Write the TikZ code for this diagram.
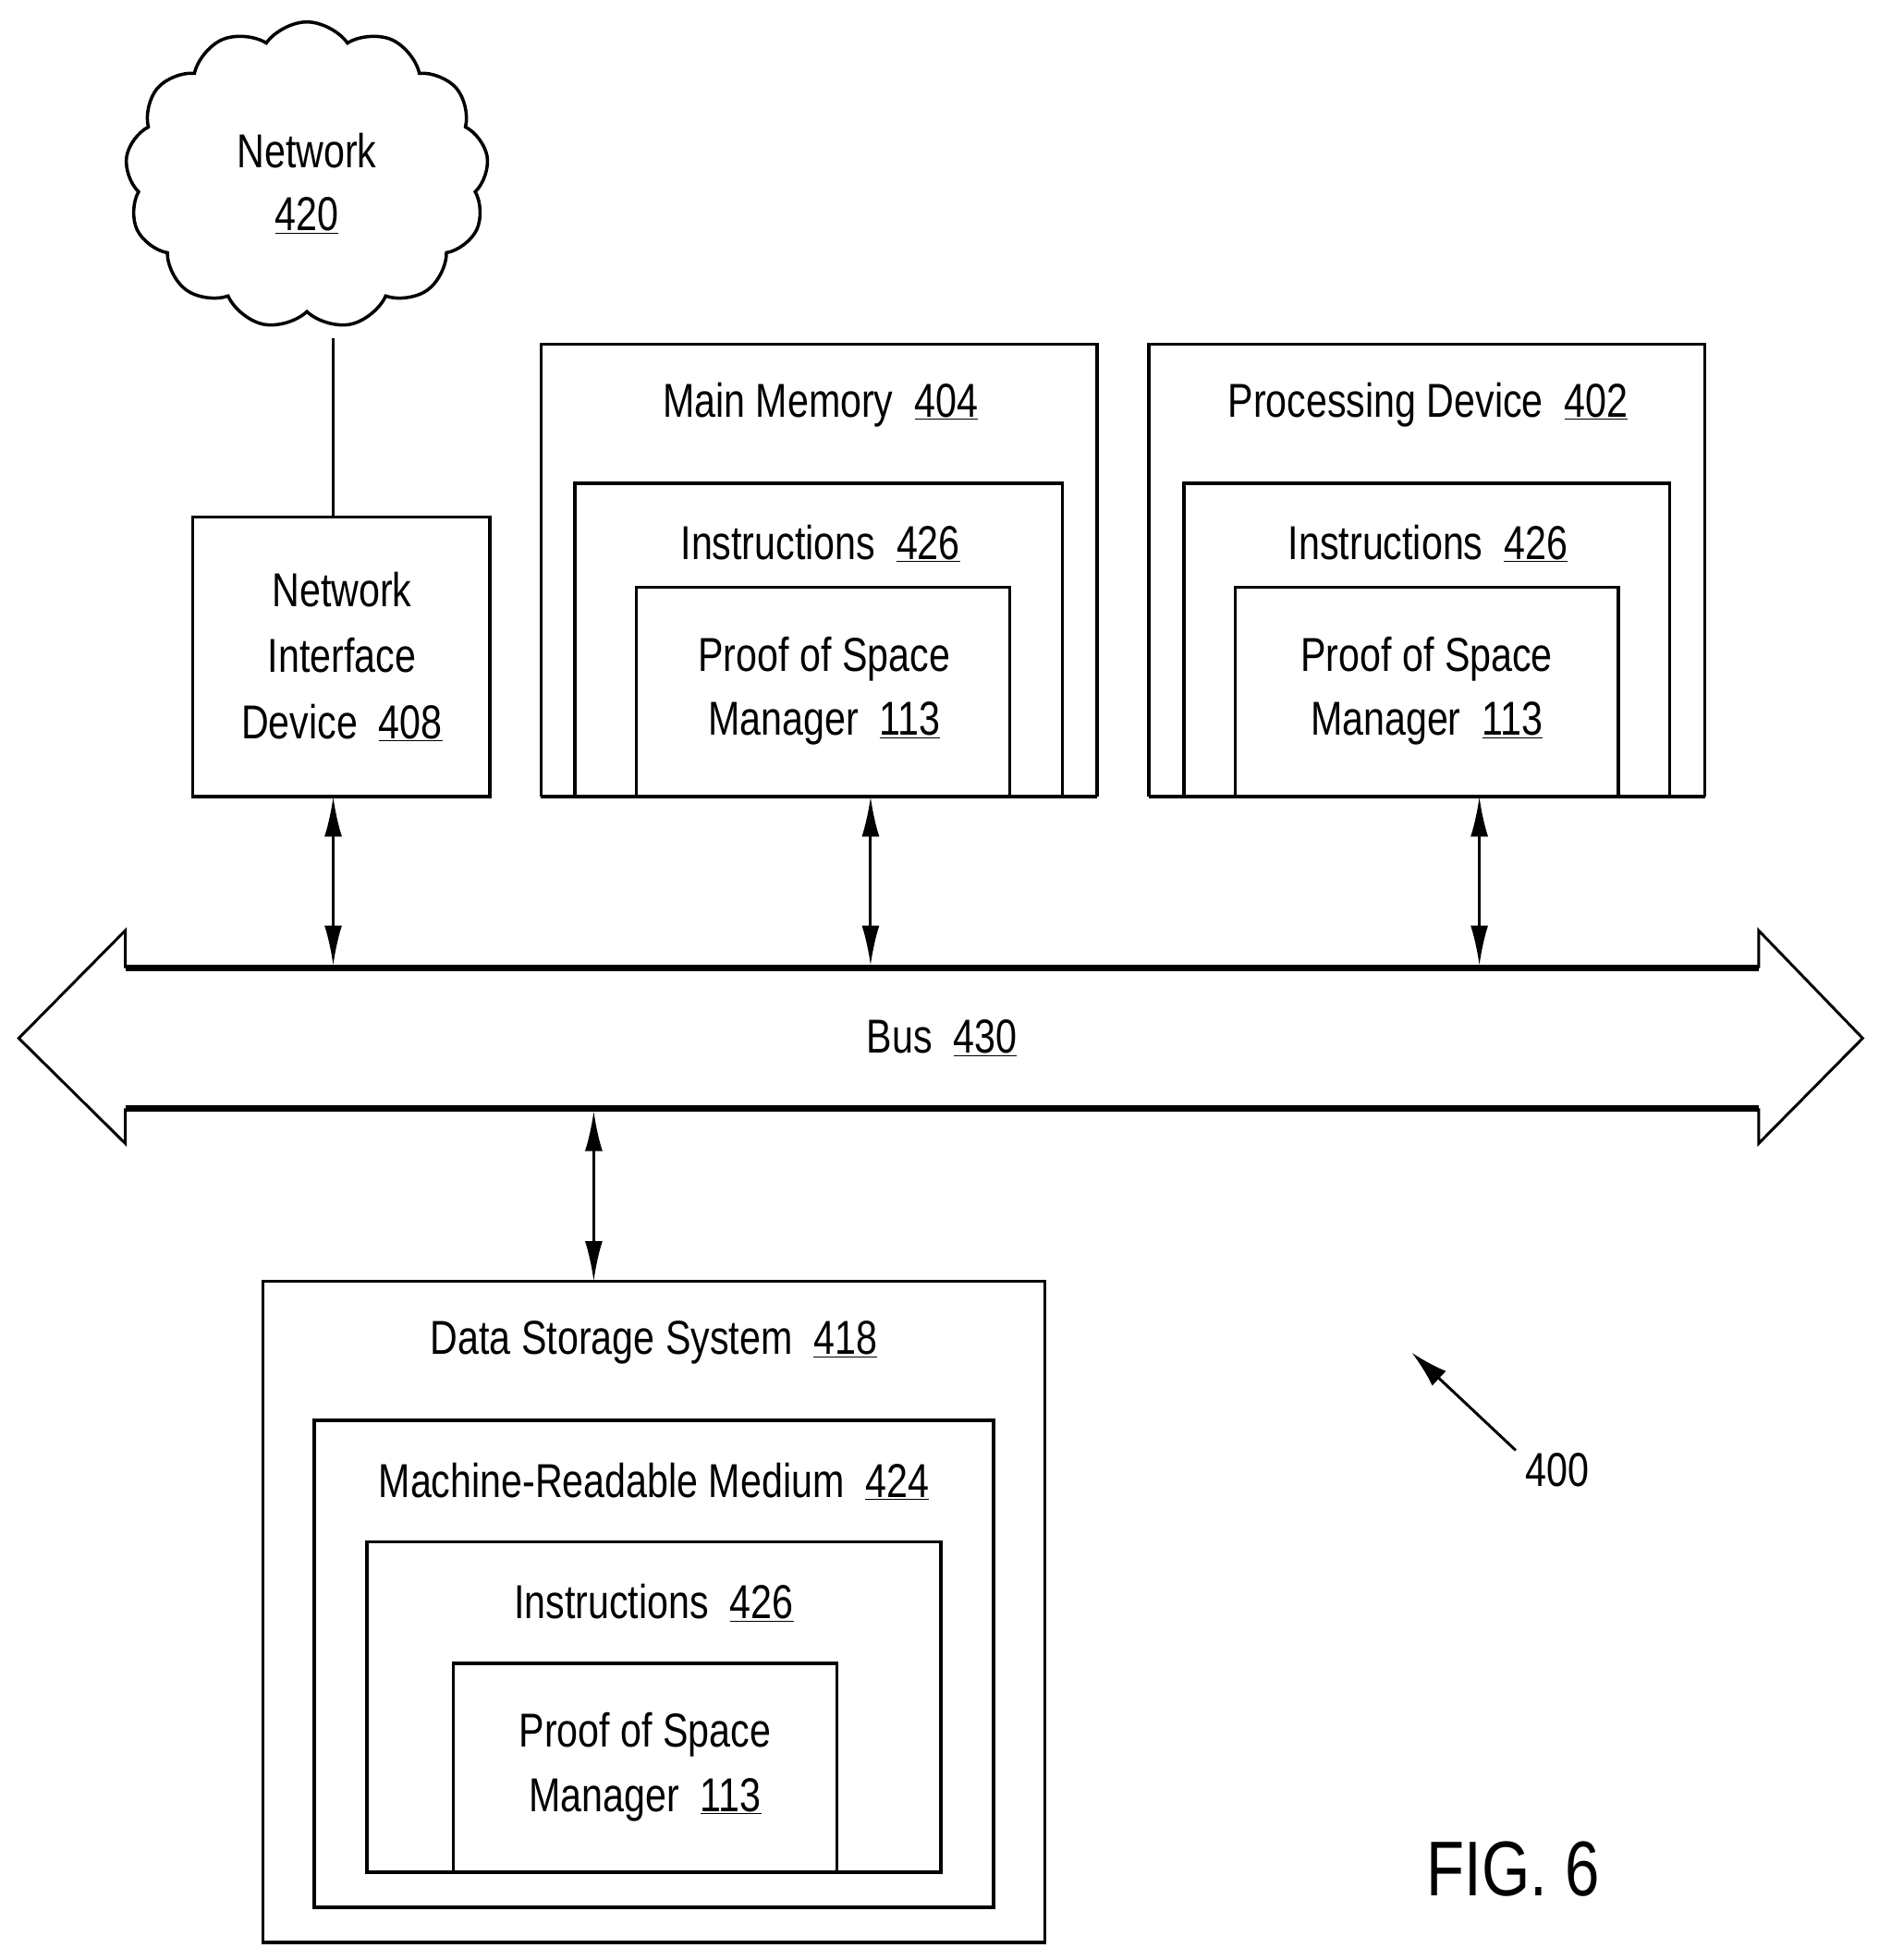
\documentclass[tikz,border=0pt]{standalone}
\usepackage{fontspec}
\setmainfont{Liberation Sans}[FakeStretch=0.8]
\usetikzlibrary{shapes.symbols,arrows.meta}
\begin{document}
\begin{tikzpicture}[x=1pt,y=-1pt,line width=2.6pt,
  bx/.style={draw},
  t/.style={font=\fontsize{38}{46}\selectfont,inner sep=0pt,anchor=center},
  arr/.style={{Latex[length=32pt,width=14pt]}-{Latex[length=32pt,width=14pt]},line width=2.2pt}]
\useasboundingbox (0,0) rectangle (1500,1565);
% cloud
\node[cloud,draw,cloud puffs=13,cloud puff arc=110,aspect=1.2,minimum width=290pt,minimum height=245pt] (net) at (245,140) {};
\node[t] at (245,120) {Network};
\node[t] at (245,172) {\underline{420}};
% NID
\draw (154,413) rectangle (391,636);
\coordinate (nidt) at (266,413);
\coordinate (nidb) at (266,636);
\node[t] at (273,471) {Network};
\node[t] at (273,523) {Interface};
\node[t] at (273,577) {Device\ \ \underline{408}};
\draw (266,270) -- (nidt);
% Main memory
\draw (432,636) -- (432,275) -- (876,275) -- (876,636);
\node[t] at (655,323) {Main Memory\ \ \underline{404}};
\draw (459,636) -- (459,386) -- (848,386) -- (848,636);
\node[t] at (655,434) {Instructions\ \ \underline{426}};
\draw (508,636) -- (508,469) -- (806,469) -- (806,636);
\node[t] at (658,526) {Proof of Space};
\node[t] at (658,578) {Manager\ \ \underline{113}};
\draw (432,636) -- (876,636);
% Processing
\draw (917,636) -- (917,275) -- (1361,275) -- (1361,636);
\node[t] at (1140,323) {Processing Device\ \ \underline{402}};
\draw (945,636) -- (945,386) -- (1333,386) -- (1333,636);
\node[t] at (1140,434) {Instructions\ \ \underline{426}};
\draw (986,636) -- (986,469) -- (1292,469) -- (1292,636);
\node[t] at (1139,526) {Proof of Space};
\node[t] at (1139,578) {Manager\ \ \underline{113}};
\draw (917,636) -- (1361,636);
% bus
\draw[line width=2.2pt,line join=miter] (100,773) -- (100,743) -- (15,829) -- (100,913) -- (100,885);
\draw[line width=2.2pt,line join=miter] (1404,773) -- (1404,743) -- (1487,829) -- (1404,913) -- (1404,885);
\draw[line width=5pt] (100,773) -- (1404,773);
\draw[line width=5pt] (100,885) -- (1404,885);
\node[t] (bus) at (752,829) {Bus\ \ \underline{430}};
\coordinate (b1) at (266,771);
\coordinate (b2) at (695,771);
\coordinate (b3) at (1181,771);
\coordinate (b4) at (474,887);
\draw[arr] (nidb) -- (b1);
\draw[arr] (695,636) -- (b2);
\draw[arr] (1181,636) -- (b3);
\draw[arr] (b4) -- (474,1023);
% DSS
\draw (210,1023) rectangle (834,1551);
\node[t] at (522,1072) {Data Storage System\ \ \underline{418}};
\draw (251,1134) rectangle (793,1523);
\node[t] at (522,1183) {Machine-Readable Medium\ \ \underline{424}};
\draw (293,1231) rectangle (751,1495);
\node[t] at (522,1280) {Instructions\ \ \underline{426}};
\draw (362,1328) rectangle (668,1495);
\node[t] at (515,1385) {Proof of Space};
\node[t] at (515,1437) {Manager\ \ \underline{113}};
% 400
\node[t] (n400) at (1243,1174) {400};
\draw[-{Latex[length=30pt,width=16pt]},line width=2.2pt] (1210,1158) -- (1127,1080);
\node[t,font=\fontsize{62}{70}\selectfont] at (1208,1492) {FIG. 6};
\end{tikzpicture}
\end{document}
